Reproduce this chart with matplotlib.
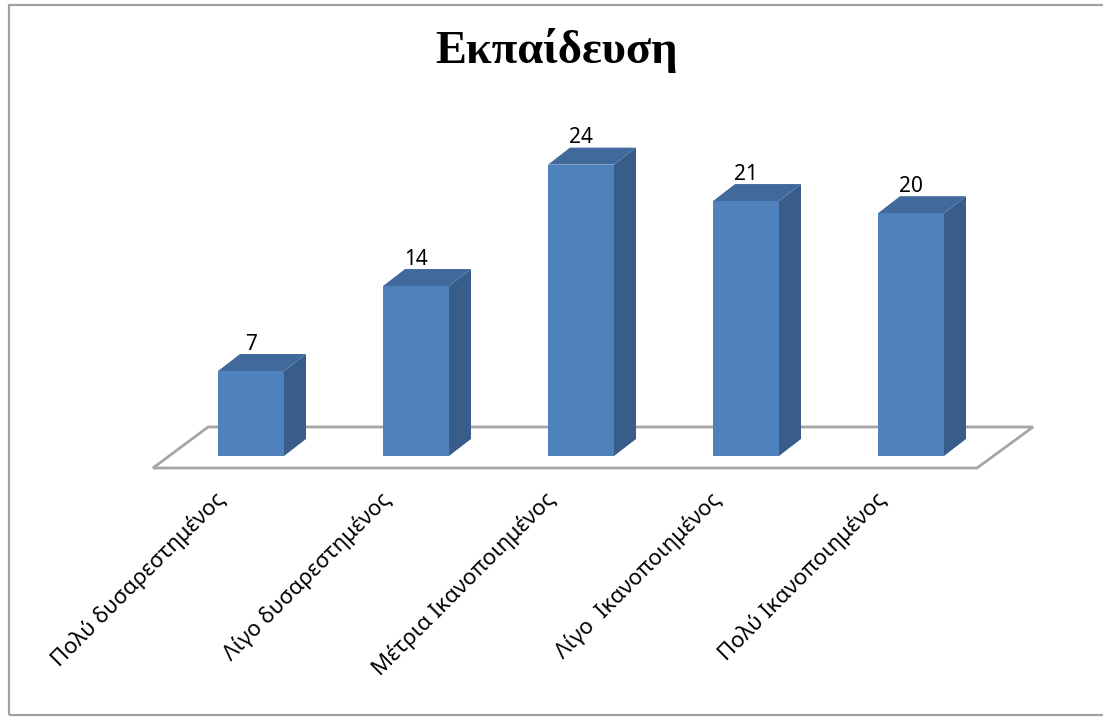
import matplotlib
matplotlib.use('Agg')
import matplotlib.pyplot as plt
from matplotlib.patches import Polygon, Rectangle

# data
categories = ['Πολύ δυσαρεστημένος', 'Λίγο δυσαρεστημένος', 'Μέτρια Ικανοποιημένος',
              'Λίγο  Ικανοποιημένος', 'Πολύ Ικανοποιημένος']
values = [7, 14, 24, 21, 20]
title = 'Εκπαίδευση'

FRONT = '#4f81bd'
SIDE = '#385d8a'
TOP = '#41699c'
FLOOR_EDGE = '#a6a6a6'

W, H = 1103, 718
fig = plt.figure(figsize=(W / 100, H / 100), dpi=100)
fig.patch.set_facecolor('white')

# outer chart border
fig.patches.append(Rectangle((9 / W, 1 - 715 / H), (W + 5 - 9) / W, (715 - 5) / H,
                             transform=fig.transFigure, fill=False,
                             edgecolor='#a0a0a0', linewidth=1.6))

# axes: x in category units, y in value units
ax = fig.add_axes([86 / W, (H - 492.4) / H, 990 / W, 400.6 / H])
ax.set_xlim(-1, 5)
ax.set_ylim(-3, 30)
ax.axis('off')

bar_w = 0.4
ddx, ddy = 0.1333, 1.4   # 3d depth offset

# floor
floor = Polygon([(-0.594, -0.99), (4.4, -0.99), (4.74, 2.39), (-0.26, 2.39)],
                closed=True, facecolor='white', edgecolor=FLOOR_EDGE,
                linewidth=2.0, zorder=1)
ax.add_patch(floor)

xs = list(range(len(values)))
ax.bar(xs, values, width=bar_w, color=FRONT, zorder=3)
for x, v in zip(xs, values):
    l, r = x - bar_w / 2, x + bar_w / 2
    ax.add_patch(Polygon([(r, 0), (r + ddx, ddy), (r + ddx, v + ddy), (r, v)],
                         closed=True, facecolor=SIDE, edgecolor='none', zorder=3))
    ax.add_patch(Polygon([(l, v), (r, v), (r + ddx, v + ddy), (l + ddx, v + ddy)],
                         closed=True, facecolor=TOP, edgecolor='none', zorder=3))
    ax.text(x, v + ddy + 0.35, str(v), ha='center', va='baseline',
            fontsize=15, family=['Noto Sans', 'DejaVu Sans'], zorder=4)

# category labels
for x, c in zip(xs, categories):
    ax.text(x - 0.22, -2.7, c, rotation=45, rotation_mode='anchor',
            ha='right', va='top', fontsize=16,
            family=['Noto Sans', 'DejaVu Sans'])

fig.text(557 / W, 1 - 63 / H, title, ha='center', va='baseline',
         fontsize=33.5, fontweight='bold', family=['Liberation Serif', 'DejaVu Serif'])

fig.savefig('out.png', dpi=100)
